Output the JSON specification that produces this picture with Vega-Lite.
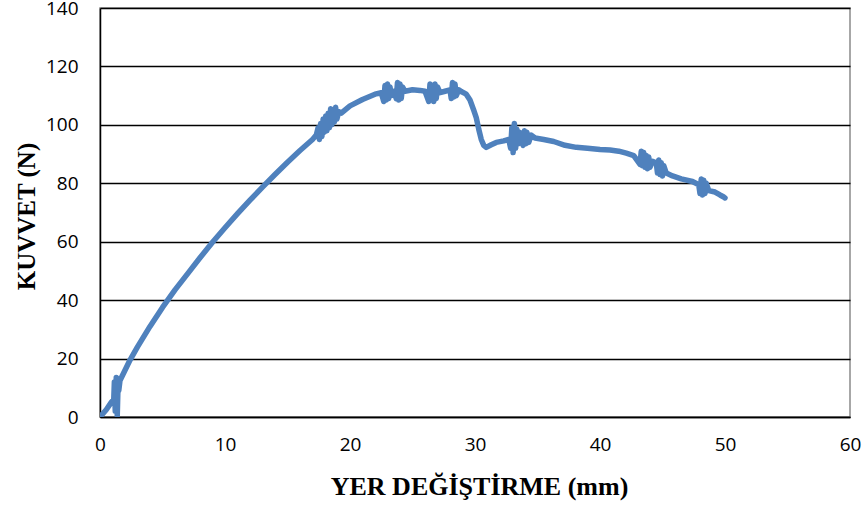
{
  "$schema": "https://vega.github.io/schema/vega-lite/v6.json",
  "width": 750,
  "height": 409,
  "autosize": {"type": "none"},
  "padding": {"left": 100, "top": 8, "right": 16, "bottom": 89},
  "background": "white",
  "config": {
    "view": {"stroke": "#8a8a8a", "strokeWidth": 1.5},
    "axis": {"labelFont": "Open Sans", "labelFontSize": 19, "labelColor": "#000", "titleFont": "Liberation Serif", "titleFontWeight": "bold", "titleColor": "#000"}
  },
  "data": {"values": [
    {"x": 0, "y": 0}, {"x": 0.5, "y": 2.5}, {"x": 0.9, "y": 5}, {"x": 1.1, "y": 6},
    {"x": 1.15, "y": 12}, {"x": 1.22, "y": 2}, {"x": 1.3, "y": 13.5}, {"x": 1.38, "y": 0.5},
    {"x": 1.45, "y": 12}, {"x": 1.5, "y": 9}, {"x": 1.6, "y": 12.5}, {"x": 2.0, "y": 16},
    {"x": 2.4, "y": 19.5}, {"x": 3.0, "y": 24}, {"x": 4.0, "y": 31}, {"x": 5.0, "y": 37.5},
    {"x": 6.0, "y": 43.5}, {"x": 7.0, "y": 49}, {"x": 8.0, "y": 54.5}, {"x": 9.0, "y": 59.8},
    {"x": 10, "y": 64.8}, {"x": 11, "y": 69.6}, {"x": 12, "y": 74.2}, {"x": 13, "y": 78.7},
    {"x": 14, "y": 83}, {"x": 15, "y": 87.2}, {"x": 16, "y": 91.2},
    {"x": 17.0, "y": 95}, {"x": 17.3, "y": 96.5}, {"x": 17.45, "y": 99}, {"x": 17.55, "y": 95},
    {"x": 17.65, "y": 100.5}, {"x": 17.75, "y": 96}, {"x": 17.85, "y": 102}, {"x": 17.95, "y": 97.5},
    {"x": 18.05, "y": 103}, {"x": 18.15, "y": 98}, {"x": 18.25, "y": 104}, {"x": 18.35, "y": 99},
    {"x": 18.45, "y": 105.5}, {"x": 18.55, "y": 100}, {"x": 18.65, "y": 105}, {"x": 18.75, "y": 101},
    {"x": 18.85, "y": 106}, {"x": 18.95, "y": 102}, {"x": 19.1, "y": 104.5}, {"x": 19.3, "y": 104},
    {"x": 20, "y": 106.5}, {"x": 21, "y": 108.7}, {"x": 22, "y": 110.5}, {"x": 22.5, "y": 111},
    {"x": 22.7, "y": 108}, {"x": 22.8, "y": 113.5}, {"x": 22.9, "y": 108.5}, {"x": 23.0, "y": 114},
    {"x": 23.1, "y": 109}, {"x": 23.2, "y": 113}, {"x": 23.3, "y": 110}, {"x": 23.5, "y": 111.5},
    {"x": 23.7, "y": 109}, {"x": 23.8, "y": 114.5}, {"x": 23.9, "y": 108.5}, {"x": 24.0, "y": 114},
    {"x": 24.1, "y": 109}, {"x": 24.2, "y": 113}, {"x": 24.4, "y": 111.5}, {"x": 25, "y": 112},
    {"x": 25.6, "y": 111.8}, {"x": 26.0, "y": 111.5}, {"x": 26.3, "y": 108}, {"x": 26.4, "y": 114},
    {"x": 26.5, "y": 108.5}, {"x": 26.6, "y": 113.5}, {"x": 26.7, "y": 108}, {"x": 26.8, "y": 114},
    {"x": 26.9, "y": 109}, {"x": 27.0, "y": 113}, {"x": 27.2, "y": 111}, {"x": 27.6, "y": 111.5},
    {"x": 28.0, "y": 112}, {"x": 28.1, "y": 109}, {"x": 28.2, "y": 114.5}, {"x": 28.3, "y": 109.5},
    {"x": 28.4, "y": 114}, {"x": 28.5, "y": 110}, {"x": 28.7, "y": 112}, {"x": 28.9, "y": 111.4},
    {"x": 29.3, "y": 110.5}, {"x": 29.6, "y": 108.5}, {"x": 29.9, "y": 105}, {"x": 30.1, "y": 102.5},
    {"x": 30.3, "y": 98.5}, {"x": 30.5, "y": 95}, {"x": 30.7, "y": 93}, {"x": 30.9, "y": 92.3},
    {"x": 31.3, "y": 93.2}, {"x": 31.7, "y": 94}, {"x": 32.3, "y": 94.5}, {"x": 32.7, "y": 95},
    {"x": 32.85, "y": 92}, {"x": 32.95, "y": 99}, {"x": 33.05, "y": 90.5}, {"x": 33.15, "y": 100.5},
    {"x": 33.25, "y": 92}, {"x": 33.35, "y": 98.5}, {"x": 33.45, "y": 93.5}, {"x": 33.55, "y": 97.5},
    {"x": 33.7, "y": 95}, {"x": 33.85, "y": 93}, {"x": 33.95, "y": 98}, {"x": 34.05, "y": 93.5},
    {"x": 34.15, "y": 97.5}, {"x": 34.3, "y": 94}, {"x": 34.5, "y": 96.5}, {"x": 34.8, "y": 95.5},
    {"x": 35.5, "y": 95}, {"x": 36.3, "y": 94.3}, {"x": 37.2, "y": 93}, {"x": 38.1, "y": 92.3},
    {"x": 39, "y": 92}, {"x": 40, "y": 91.6}, {"x": 40.8, "y": 91.4}, {"x": 41.5, "y": 91},
    {"x": 42.1, "y": 90.3}, {"x": 42.7, "y": 89.5}, {"x": 43.2, "y": 86.5}, {"x": 43.3, "y": 91},
    {"x": 43.4, "y": 86}, {"x": 43.5, "y": 90.5}, {"x": 43.6, "y": 85.5}, {"x": 43.7, "y": 89.5},
    {"x": 43.8, "y": 85}, {"x": 43.9, "y": 89}, {"x": 44.0, "y": 85.5}, {"x": 44.2, "y": 87.5},
    {"x": 44.5, "y": 87}, {"x": 44.6, "y": 83.5}, {"x": 44.7, "y": 88}, {"x": 44.8, "y": 83},
    {"x": 44.9, "y": 87}, {"x": 45.0, "y": 82.5}, {"x": 45.1, "y": 86}, {"x": 45.3, "y": 83.5},
    {"x": 45.8, "y": 82.5}, {"x": 46.5, "y": 81.5}, {"x": 47.4, "y": 80.6}, {"x": 47.9, "y": 79.5},
    {"x": 48.0, "y": 76.5}, {"x": 48.1, "y": 81.5}, {"x": 48.2, "y": 76}, {"x": 48.3, "y": 81},
    {"x": 48.4, "y": 76.5}, {"x": 48.5, "y": 80}, {"x": 48.7, "y": 77.5}, {"x": 49.2, "y": 77},
    {"x": 49.6, "y": 76}, {"x": 49.9, "y": 75.3}, {"x": 50, "y": 75}
  ]},
  "mark": {"type": "line", "color": "#4f81bd", "strokeWidth": 5.5, "strokeJoin": "round", "strokeCap": "round", "clip": true},
  "encoding": {
    "x": {"field": "x", "type": "quantitative", "scale": {"domain": [0, 60], "nice": false, "zero": false},
      "axis": {"title": "YER DEĞİŞTİRME (mm)", "values": [0, 10, 20, 30, 40, 50, 60], "grid": false, "ticks": false,
        "domainColor": "#000", "domainWidth": 1.5, "labelPadding": 18, "labelFlush": false,
        "titleFontSize": 26, "titleBaseline": "alphabetic", "titleY": 77, "titleX": 379, "titleAlign": "center"}},
    "y": {"field": "y", "type": "quantitative", "scale": {"domain": [0, 140], "nice": false},
      "axis": {"title": "KUVVET (N)", "values": [0, 20, 40, 60, 80, 100, 120, 140], "grid": true, "gridColor": "#000", "gridWidth": 1.3,
        "ticks": false, "domainColor": "#000", "domainWidth": 1.5, "labelPadding": 22, "labelFlush": false,
        "titleFontSize": 25, "titleAngle": -90, "titleBaseline": "alphabetic", "titleX": -66, "titleY": 208, "titleAlign": "center"}}
  }
}
